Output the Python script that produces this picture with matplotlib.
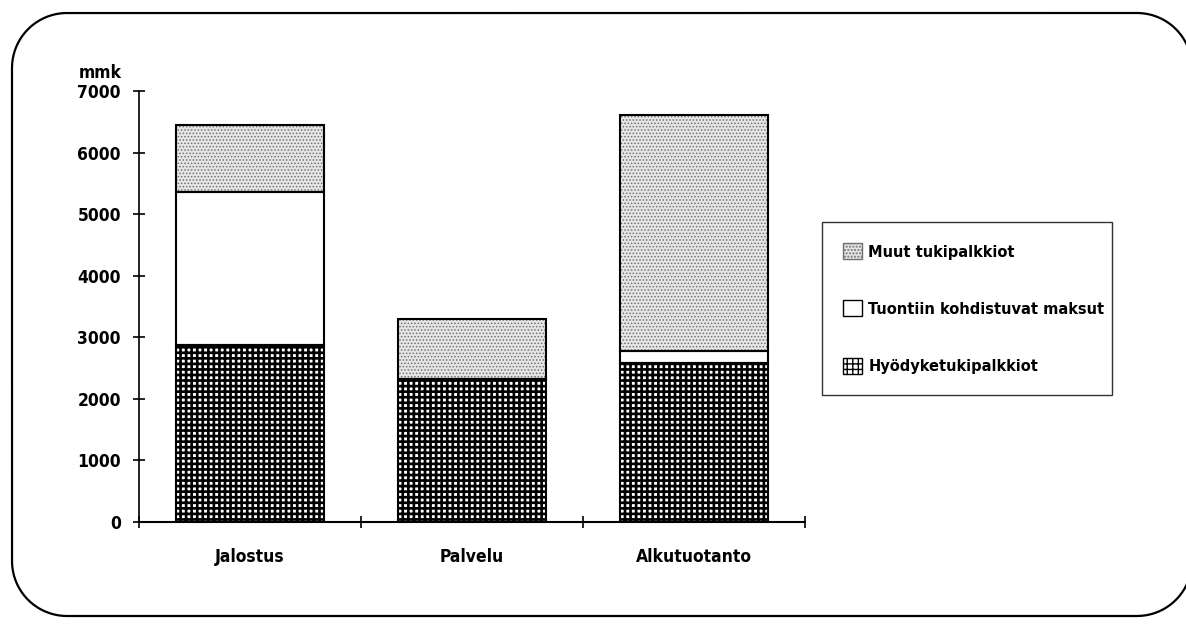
import matplotlib
matplotlib.use("Agg")
import numpy as np
import matplotlib.pyplot as plt
from matplotlib import font_manager
from matplotlib.patches import Patch, PathPatch
from matplotlib.path import Path
from matplotlib.transforms import IdentityTransform

# Prefer a narrow bold sans face when one is installed
narrow = [f for f in font_manager.fontManager.ttflist
          if ('Narrow' in f.fname or 'Condensed' in f.fname) and f.weight in ('bold', 700)]
if narrow:
    plt.rcParams['font.family'] = [narrow[0].name, 'DejaVu Sans']
    plt.rcParams['font.stretch'] = 'condensed'
else:
    plt.rcParams['font.family'] = ['DejaVu Sans']
plt.rcParams['font.weight'] = 'bold'

# Data (mmk)
categories = ["Jalostus", "Palvelu", "Alkutuotanto"]
hyodyke = [2880, 2330, 2590]        # Hyödyketukipalkkiot
tuonti = [2485, 0, 185]             # Tuontiin kohdistuvat maksut
muut = [1075, 970, 3835]            # Muut tukipalkkiot
series_labels = ["Muut tukipalkkiot", "Tuontiin kohdistuvat maksut", "Hyödyketukipalkkiot"]
yticks = [0, 1000, 2000, 3000, 4000, 5000, 6000, 7000]
unit_label = "mmk"

W, H = 1186, 629
fig = plt.figure(figsize=(W / 100, H / 100), dpi=100)
ax = fig.add_axes([139 / W, 1 - 522 / H, (805 - 139) / W, (522 - 91) / H])

x = list(range(len(categories)))
width = 2 / 3
bottom2 = [a + b for a, b in zip(hyodyke, tuonti)]

grid_style = dict(hatch='+++', facecolor='white', edgecolor='black', linewidth=0)
dot_style = dict(hatch='.....', facecolor='#e6e6e6', edgecolor='#707070', linewidth=0)

with plt.rc_context({'hatch.linewidth': 1.9}):
    ax.bar(x, hyodyke, width, **grid_style)
with plt.rc_context({'hatch.linewidth': 0.7}):
    ax.bar(x, muut, width, bottom=bottom2, **dot_style)
# outlines
ax.bar(x, tuonti, width, bottom=hyodyke, facecolor='white', edgecolor='black', linewidth=1.5)
ax.bar(x, muut, width, bottom=bottom2, fill=False, edgecolor='black', linewidth=1.5)
ax.bar(x, hyodyke, width, fill=False, edgecolor='black', linewidth=1.5)

ax.set_xlim(-0.5, len(categories) - 0.5)
ax.set_ylim(0, 7000)
ax.set_yticks(yticks)
ax.set_yticklabels([str(v) for v in yticks], fontsize=12.5, fontweight='bold')
ax.set_xticks(x)
ax.set_xticklabels(categories, fontsize=12.5, fontweight='bold')
ax.set_xticks([i - 0.5 for i in range(len(categories) + 1)], minor=True)
ax.tick_params(axis='x', which='major', length=0, pad=19)
ax.tick_params(axis='x', which='minor', direction='inout', length=9, width=1.2)
ax.tick_params(axis='y', direction='inout', length=9, width=1.2, pad=8.5)

for s in ['top', 'right']:
    ax.spines[s].set_visible(False)
ax.spines['left'].set_linewidth(1.2)
ax.spines['bottom'].set_linewidth(1.5)

fig.text(100 / W, 1 - 73 / H, unit_label, ha='center', va='center', fontsize=12.5, fontweight='bold')

# Legend
with plt.rc_context({'hatch.linewidth': 1.3}):
    h_grid = Patch(hatch='+++', facecolor='white', edgecolor='black', linewidth=1)
with plt.rc_context({'hatch.linewidth': 0.6}):
    h_dot = Patch(hatch='.....', facecolor='#e6e6e6', edgecolor='#707070', linewidth=1)
h_white = Patch(facecolor='white', edgecolor='black', linewidth=1)
leg = fig.legend([h_dot, h_white, h_grid], series_labels,
                 loc='upper left', bbox_to_anchor=(822 / W, 0.2, (1112 - 822) / W, 1 - 222 / H - 0.2),
                 mode='expand', fontsize=11.7, frameon=True, fancybox=False,
                 edgecolor='black', labelspacing=2.5, borderpad=1.3,
                 handlelength=1.15, handleheight=1.15, handletextpad=0.4, borderaxespad=0)
leg._legend_box.sep = 0
leg.get_frame().set_linewidth(1.0)
for t in leg.get_texts():
    t.set_fontweight('bold')

# Rounded outer frame, in pixel coordinates
def rounded_rect(x0, y0, x1, y1, r, n=40):
    pts = []
    corners = [((x1 - r, y0 + r), -90, 0), ((x1 - r, y1 - r), 0, 90),
               ((x0 + r, y1 - r), 90, 180), ((x0 + r, y0 + r), 180, 270)]
    for (cx, cy), a0, a1 in corners:
        t = np.radians(np.linspace(a0, a1, n))
        pts.extend(zip(cx + r * np.cos(t), cy + r * np.sin(t)))
    pts.append(pts[0])
    return Path(pts)

frame = PathPatch(rounded_rect(12, 13, 1192, 616, 55), transform=IdentityTransform(),
                  fill=False, edgecolor='black', linewidth=1.6)
fig.add_artist(frame)

fig.savefig("out.png", dpi=100)
